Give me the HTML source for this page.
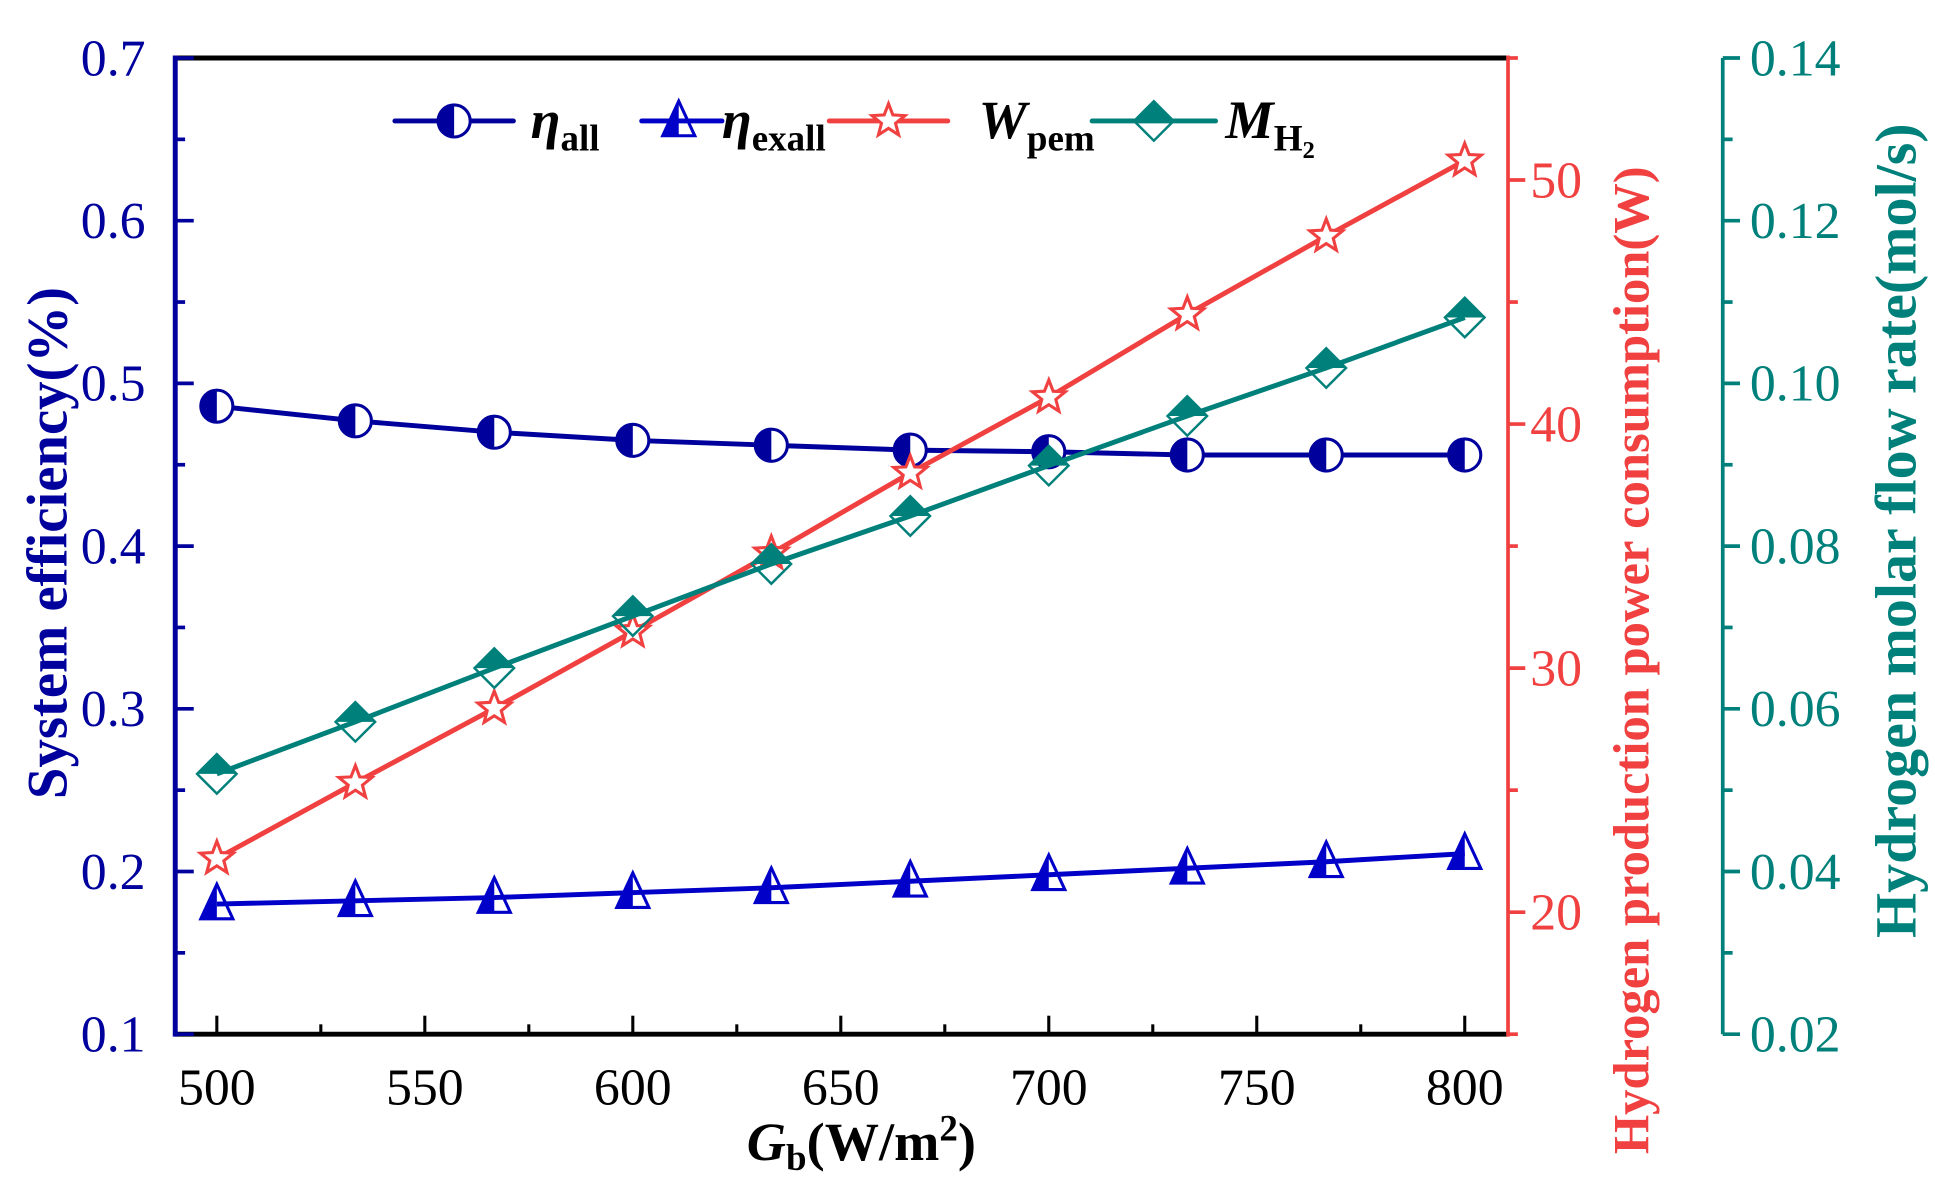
<!DOCTYPE html>
<html><head><meta charset="utf-8"><style>
html,body{margin:0;padding:0;background:#fff;}
svg{display:block;font-family:"Liberation Serif",serif;}
</style></head><body>
<svg id="chart" width="1935" height="1186" viewBox="0 0 1568 961" preserveAspectRatio="none" xmlns="http://www.w3.org/2000/svg">
<g id="axes"></g>
<g id="series"></g>
<g id="legend"></g>
</svg>
<script>
const xVals = [500, 533.3, 566.7, 600, 633.3, 666.7, 700, 733.3, 766.7, 800];
const etaAll = [0.486, 0.477, 0.470, 0.465, 0.462, 0.459, 0.458, 0.456, 0.456, 0.456];
const etaExall = [0.180, 0.182, 0.184, 0.187, 0.190, 0.194, 0.198, 0.202, 0.206, 0.211];
const wPem = [22.2, 25.3, 28.35, 31.5, 34.7, 38.0, 41.1, 44.5, 47.7, 50.8];
const mH2 = [0.052, 0.0584, 0.065, 0.0714, 0.0778, 0.0837, 0.0899, 0.096, 0.1019, 0.1081];
const xTicks = [500, 550, 600, 650, 700, 750, 800];
const leftTicks = ["0.1","0.2","0.3","0.4","0.5","0.6","0.7"];
const redTicks = ["20","30","40","50"];
const tealTicks = ["0.02","0.04","0.06","0.08","0.10","0.12","0.14"];

const NS = "http://www.w3.org/2000/svg";
const L = 142, R = 1222, T = 47, B = 838, TX = 1396;
const xS = v => L + (v - 490) / (810.4 - 490) * (R - L);
const yL = v => B - (v - 0.1) / 0.6 * (B - T);
const yR = v => B - (v - 15) / 40 * (B - T);
const yT = v => B - (v - 0.02) / 0.12 * (B - T);
const NAVY = "#00009c", BLUE = "#0000c8", RED = "#f04040", TEAL = "#00807a";

function mk(tag, attrs, parent, text) {
  const e = document.createElementNS(NS, tag);
  for (const k in attrs) e.setAttribute(k, attrs[k]);
  if (text !== undefined) e.textContent = text;
  parent.appendChild(e);
  return e;
}
const axes = document.getElementById('axes');
const series = document.getElementById('series');
const legend = document.getElementById('legend');

let e;
e = mk('line', {x1:L, y1:T, x2:R, y2:T, stroke:'#000', 'stroke-width':4}, axes);


e = mk('line', {x1:L, y1:B, x2:R, y2:B, stroke:'#000', 'stroke-width':4}, axes);


e = mk('line', {x1:L, y1:T-2, x2:L, y2:B+2, stroke:NAVY, 'stroke-width':4}, axes);


e = mk('line', {x1:R, y1:T-2, x2:R, y2:B+2, stroke:RED, 'stroke-width':3}, axes);


e = mk('line', {x1:TX, y1:T, x2:TX, y2:B, stroke:TEAL, 'stroke-width':3}, axes);



xTicks.forEach((v, i) => {
  const x = xS(v);
  mk('line', {x1:x, y1:B, x2:x, y2:B-15, stroke:'#000', 'stroke-width':2.5}, axes);
  if (i < xTicks.length - 1) {
    const xm = xS(v + 25);
    mk('line', {x1:xm, y1:B, x2:xm, y2:B-8, stroke:'#000', 'stroke-width':2.5}, axes);
  }
  const t = mk('text', {x:x, y:895, 'font-size':42, 'text-anchor':'middle', fill:'#000'}, axes, String(v));
  
  
});
leftTicks.forEach((s, i) => {
  const v = parseFloat(s), y = yL(v);
  mk('line', {x1:L, y1:y, x2:L+15, y2:y, stroke:NAVY, 'stroke-width':3}, axes);
  if (i < leftTicks.length - 1) {
    const ym = yL(v + 0.05);
    mk('line', {x1:L, y1:ym, x2:L+8, y2:ym, stroke:NAVY, 'stroke-width':3}, axes);
  }
  const t = mk('text', {x:118, y:y+14, 'font-size':42, 'text-anchor':'end', fill:NAVY}, axes, s);
  
  
});
[15,20,25,30,35,40,45,50,55].forEach(v => {
  const y = yR(v), major = v % 10 === 0;
  mk('line', {x1:R, y1:y, x2:R+(major?14:8), y2:y, stroke:RED, 'stroke-width':3}, axes);
});
redTicks.forEach(s => {
  const t = mk('text', {x:1240, y:yR(parseFloat(s))+14, 'font-size':42, fill:RED}, axes, s);
  
  
});
tealTicks.forEach((s, i) => {
  const v = parseFloat(s), y = yT(v);
  mk('line', {x1:TX, y1:y, x2:TX+14, y2:y, stroke:TEAL, 'stroke-width':3}, axes);
  if (i < tealTicks.length - 1) {
    const ym = yT(v + 0.01);
    mk('line', {x1:TX, y1:ym, x2:TX+8, y2:ym, stroke:TEAL, 'stroke-width':3}, axes);
  }
  const t = mk('text', {x:1418, y:y+14, 'font-size':42, fill:TEAL}, axes, s);
  
  
});
e = mk('text', {x:0, y:0, transform:'translate(54,440) rotate(-90)', 'font-size':46, 'font-weight':'bold', 'text-anchor':'middle', fill:NAVY}, axes, 'System efficiency(%)');


e = mk('text', {x:0, y:0, transform:'translate(1336,535) rotate(-90)', 'font-size':41, 'font-weight':'bold', 'text-anchor':'middle', fill:RED}, axes, 'Hydrogen production power consumption(W)');


e = mk('text', {x:0, y:0, transform:'translate(1552,430) rotate(-90)', 'font-size':47, 'font-weight':'bold', 'text-anchor':'middle', fill:TEAL}, axes, 'Hydrogen molar flow rate(mol/s)');


e = mk('text', {x:698, y:940, 'font-size':44, 'font-weight':'bold', 'text-anchor':'middle', fill:'#000'}, axes);


e.innerHTML = '<tspan font-style="italic">G</tspan><tspan font-size="30" dy="8">b</tspan><tspan dy="-8">(W/m</tspan><tspan font-size="30" dy="-16">2</tspan><tspan dy="16">)</tspan>';

function circleM(g, x, y, c) {
  mk('circle', {cx:x, cy:y, r:13, fill:'#fff', stroke:c, 'stroke-width':2.5}, g);
  mk('path', {d:`M${x},${y-13} A13,13 0 0 0 ${x},${y+13} Z`, fill:c}, g);
}
function triM(g, x, y, c) {
  mk('path', {d:`M${x},${y-16} L${x-13},${y+12} L${x},${y+12} Z`, fill:c}, g);
  mk('path', {d:`M${x},${y-16} L${x-13},${y+12} L${x+13},${y+12} Z`, fill:'none', stroke:c, 'stroke-width':2.5}, g);
}
function starM(g, x, y, c) {
  let p = '';
  for (let k = 0; k < 10; k++) {
    const a = -Math.PI/2 + k*Math.PI/5, r = k % 2 ? 6 : 14;
    p += (k ? 'L' : 'M') + (x + r*Math.cos(a)).toFixed(1) + ',' + (y + r*Math.sin(a)).toFixed(1);
  }
  mk('path', {d:p+'Z', fill:'#fff', stroke:c, 'stroke-width':2.5}, g);
}
function diaM(g, x, y, c) {
  mk('path', {d:`M${x-16},${y} L${x},${y-16} L${x+16},${y} Z`, fill:c}, g);
  mk('path', {d:`M${x-16},${y} L${x},${y-16} L${x+16},${y} L${x},${y+16} Z`, fill:'none', stroke:c, 'stroke-width':2}, g);
}
function drawSeries(name, vals, yf, color, marker) {
  const g = mk('g', {}, series);
  
  
  const pts = vals.map((v, i) => [xS(xVals[i]), yf(v)]);
  mk('polyline', {points: pts.map(p => p.join(',')).join(' '), fill:'none', stroke:color, 'stroke-width':4}, g);
  pts.forEach(p => marker(g, p[0], p[1], color));
}
drawSeries('series-eta-all', etaAll, yL, NAVY, circleM);
drawSeries('series-eta-exall', etaExall, yL, BLUE, triM);
drawSeries('series-w-pem', wPem, yR, RED, starM);
drawSeries('series-m-h2', mH2, yT, TEAL, diaM);

function legEntry(name, x0, x1, mx, c, marker, html, tx) {
  const g = mk('g', {}, legend);
  
  
  mk('line', {x1:x0, y1:98, x2:x1, y2:98, stroke:c, 'stroke-width':4, 'stroke-linecap':'round'}, g);
  marker(g, mx, 98, c);
  const t = mk('text', {x:tx, y:112, 'font-size':44, 'font-weight':'bold', fill:'#000'}, g);
  t.innerHTML = html;
}
legEntry('legend-eta-all', 320, 416, 368, NAVY, circleM, '<tspan font-style="italic">η</tspan><tspan font-size="30" dy="10">all</tspan>', 430);
legEntry('legend-eta-exall', 520, 585, 550, BLUE, triM, '<tspan font-style="italic">η</tspan><tspan font-size="30" dy="10">exall</tspan>', 585);
legEntry('legend-w-pem', 672, 768, 720, RED, starM, '<tspan font-style="italic">W</tspan><tspan font-size="30" dy="10">pem</tspan>', 793);
legEntry('legend-m-h2', 885, 985, 935, TEAL, diaM, '<tspan font-style="italic">M</tspan><tspan font-size="30" dy="10">H</tspan><tspan font-size="20" dy="6">2</tspan>', 993);
</script>
</body></html>
